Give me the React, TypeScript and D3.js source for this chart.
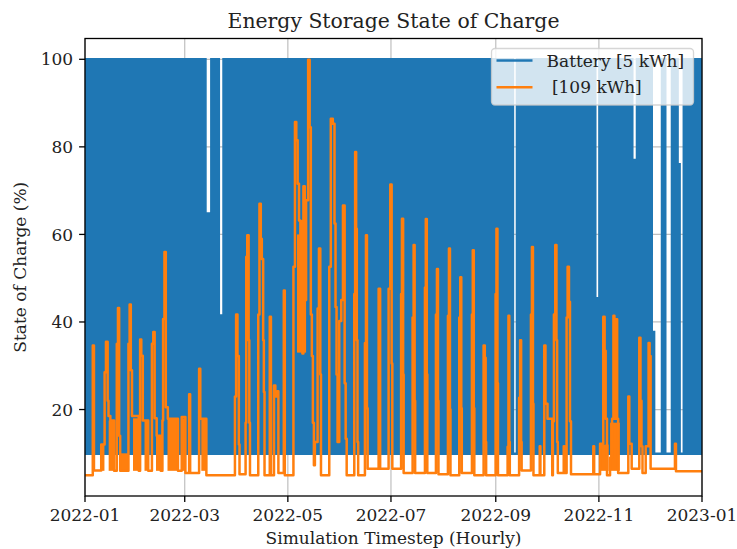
import React, { useRef, useEffect } from 'react';
import * as d3 from 'd3';

const yearStart = Date.UTC(2022, 0, 1);
const yearEnd = Date.UTC(2023, 0, 1);
const yTicks = [20, 40, 60, 80, 100];
const seriesNames = ['Battery [5 kWh]', ' [109 kWh]'];
const seriesColors = ['#1f77b4', '#ff7f0e'];

// battery cycles every day between floor and full; gaps = [startDay, endDay, max SoC reached]
const batteryFloor = 9.9;
const batteryFull = 100;
const batteryGaps = [
  [72.0, 74.0, 64.8],
  [79.9, 81.2, 41.5],
  [253.9, 254.8, 9.9],
  [302.6, 303.6, 45.4],
  [324.5, 325.8, 77],
  [336.0, 337.4, 37.7],
  [337.4, 340.6, 9.9],
  [344.0, 346.5, 9.9],
  [351.3, 352.5, 76],
  [352.5, 353.5, 9.9],
];

// 109 kWh storage, [day of year, SoC %] (value holds until the next point)
const storageTrace = [
  [0, 5.0], [4.6, 34.6], [5.3, 6.1], [9.6, 12], [11.6, 28.5], [12.4, 35.5], [13.4, 22], [13.9, 18.5],
  [15.0, 17.5], [17.2, 6], [18.8, 35], [19.5, 43.2], [20.2, 14], [20.8, 6], [25.7, 35], [26.4, 44],
  [27.1, 29], [27.8, 18.5], [31.8, 6], [32.6, 36], [33.3, 32.3], [34.2, 17.5], [37.4, 6], [39.6, 35],
  [40.4, 37.7], [41.2, 18], [42.4, 14], [44.8, 6], [45.8, 17.5], [46.2, 40.7], [47.0, 56], [47.8, 20.5],
  [49.0, 17.9], [55.0, 6], [57.2, 18.3], [59.4, 5.5], [61.6, 23.5], [62.2, 5.5], [67.5, 29.3],
  [68.2, 17.9], [71.8, 5.0],
  [88.7, 23], [89.4, 41.7], [90.2, 32.2], [91.0, 12], [91.4, 5.2], [95.0, 17], [95.4, 54.9],
  [96.0, 59.8], [96.8, 35.8], [97.2, 17], [97.6, 5.0], [102.5, 41.7], [103.2, 67], [104.0, 59],
  [104.6, 54.4], [105.4, 35.8], [105.8, 24], [106.2, 5.0], [109.3, 41.2], [110.0, 5.0], [111.8, 25.5],
  [112.6, 23], [113.8, 24.2], [114.4, 5.5], [117.6, 47.2], [118.2, 5.0],
  [123.3, 52.6], [124.2, 85.7], [125.0, 81.5], [125.8, 71.6], [126.6, 63.2], [127.4, 41], [128.0, 63],
  [128.6, 32.8], [129.2, 71], [130.0, 45], [130.8, 67.8], [132.0, 99.9], [132.9, 84.5], [133.6, 41.7],
  [134.2, 32.2], [134.8, 17], [135.4, 7.3], [136.0, 12.6], [137.6, 43.1], [138.4, 56.8], [139.2, 28],
  [139.6, 5.0], [144.5, 52.6], [145.4, 86.4], [146.6, 85.3], [147.6, 62.5], [148.2, 43.4], [148.8, 28],
  [149.4, 12.6], [150.4, 40.2], [151.6, 45], [152.6, 66.6], [153.6, 26], [154.2, 13.3], [154.8, 5.0],
  [159.3, 46.4], [159.8, 78.8], [160.4, 61.3], [160.8, 35.8], [161.2, 12.6], [161.6, 5.0],
  [165.6, 35.2], [166.2, 59.8], [166.8, 20.3], [167.2, 6.5], [173.7, 47.6], [174.6, 6.5],
  [179.6, 47.6], [180.6, 71.4], [181.4, 30.5], [181.8, 6.5],
  [187.0, 46.4], [187.5, 63.6], [188.2, 28], [188.5, 5.5], [193.8, 41], [194.4, 57.6], [195.0, 22],
  [195.3, 5.5], [201.1, 47.9], [201.6, 63.5], [202.2, 28], [202.5, 5.5], [207.6, 41.7], [208.2, 52.1],
  [208.8, 22], [209.1, 5.2], [214.7, 41.4], [215.3, 56.8], [215.9, 20], [216.2, 5.0], [221.4, 41],
  [222.0, 50.2], [222.6, 20.3], [222.9, 5.5], [228.9, 41.7], [229.4, 56.4], [230.0, 20.3], [230.3, 5.0],
  [235.8, 34.6], [236.5, 31.8], [237.0, 12.6], [237.3, 5.0], [242.9, 46.4], [243.4, 61.3], [244.0, 26],
  [244.3, 5.0], [250.0, 11.5], [250.5, 41.4], [251.0, 12.6], [251.3, 5.0], [256.8, 22.7], [257.4, 35.8],
  [258.0, 12.6], [258.3, 6.1], [263.8, 41.7], [264.4, 57.1], [265.0, 21.3], [265.3, 5.0], [269.0, 11.6],
  [269.4, 5.0], [271.7, 34.6], [272.4, 21.3], [273.6, 17.9], [276.4, 5.0], [276.8, 17.3],
  [277.4, 41.7], [278.2, 57.6], [278.9, 35.8], [279.3, 12.6], [279.7, 5.5], [283.2, 11.6], [283.6, 5.5],
  [284.9, 41], [285.5, 52.6], [286.3, 44.6], [286.9, 17.3], [287.5, 5.2],
  [300.7, 11.6], [301.2, 5.2], [304.7, 12.2], [306.6, 41.2], [307.4, 33.4], [308.0, 17.9], [308.8, 5.0],
  [310.6, 9], [311.8, 17.9], [312.6, 41.4], [313.2, 17.9], [314.0, 40.6], [314.8, 17.9], [315.4, 5.5],
  [321.4, 23], [322.0, 12.2], [323.4, 6.5], [327.9, 36.4], [328.6, 22], [329.2, 11.6], [329.8, 5.5],
  [331.7, 11.6], [333.4, 35.2], [334.0, 32.2], [334.6, 6.5], [349.0, 12.2], [349.6, 5.9], [365, 5.9],
];

// stretches where the storage cycles every day, [startDay, endDay, low, high]
const storageBands = [
  [9.5, 11.5, 6, 12],
  [14.0, 17.0, 6, 17.5],
  [20.8, 25.5, 6, 10],
  [28.4, 31.6, 6, 18],
  [35.2, 37.4, 6, 17.5],
  [42.0, 45.0, 6, 14],
  [48.8, 55.0, 6, 18],
  [57.2, 59.4, 6, 18],
  [68.8, 71.8, 6, 18],
  [125.4, 130.8, 33, 60],
  [304.7, 309.8, 6, 12],
  [310.6, 316.4, 6, 17],
];

const App = () => {
  const svgRef = useRef(null);

  useEffect(() => {
    const svg = d3.select(svgRef.current);
    svg.selectAll('*').remove();

    const left = 85, right = 702, top = 38.5, bottom = 496;
    const font = 'DejaVu Serif, serif';
    const fs = 17;
    const lw = 2.5;

    const day = (d) => new Date(yearStart + d * 864e5);
    const x = d3.scaleUtc().domain([new Date(yearStart), new Date(yearEnd)]).range([left, right]);
    const y = d3.scaleLinear().domain([0.25, 104.75]).range([bottom, top]);
    const xTicks = x.ticks(d3.utcMonth.every(2));
    const fmt = d3.utcFormat('%Y-%m');

    const plot = svg.append('g');
    svg.append('defs').append('clipPath').attr('id', 'clip')
      .append('rect').attr('x', left).attr('y', top).attr('width', right - left).attr('height', bottom - top);

    // grid
    plot.selectAll('line.gx').data(xTicks).enter().append('line')
      .attr('x1', (d) => x(d)).attr('x2', (d) => x(d)).attr('y1', top).attr('y2', bottom)
      .style('stroke', '#b0b0b0').style('stroke-width', 1.2).style('opacity', 0.8);
    plot.selectAll('line.gy').data(yTicks).enter().append('line')
      .attr('x1', left).attr('x2', right).attr('y1', (d) => y(d)).attr('y2', (d) => y(d))
      .style('stroke', '#b0b0b0').style('stroke-width', 1.2).style('opacity', 0.8);

    // battery: band between floor and daily max
    const steps = [[0, batteryFull]];
    batteryGaps.forEach((g) => {
      steps.push([g[0], g[2]]);
      steps.push([g[1], batteryFull]);
    });
    steps.push([365, batteryFull]);
    const batteryArea = d3.area()
      .curve(d3.curveStepAfter)
      .x((d) => x(day(d[0])))
      .y0(y(batteryFloor) + lw / 2)
      .y1((d) => y(d[1]) - lw / 2);
    plot.append('path').datum(steps).attr('d', batteryArea)
      .attr('clip-path', 'url(#clip)')
      .style('fill', seriesColors[0]);

    // storage
    const data = plot.append('g').attr('clip-path', 'url(#clip)');
    data.selectAll('rect.band').data(storageBands).enter().append('rect')
      .attr('x', (d) => x(day(d[0])))
      .attr('width', (d) => x(day(d[1])) - x(day(d[0])))
      .attr('y', (d) => y(d[3]))
      .attr('height', (d) => y(d[2]) - y(d[3]))
      .style('fill', seriesColors[1]);
    const line = d3.line().curve(d3.curveStepAfter).x((d) => x(day(d[0]))).y((d) => y(d[1]));
    data.append('path').datum(storageTrace).attr('d', line)
      .style('fill', 'none').style('stroke', seriesColors[1])
      .style('stroke-width', lw).style('stroke-linejoin', 'round');

    // spines
    svg.append('rect').attr('x', left).attr('y', top).attr('width', right - left).attr('height', bottom - top)
      .style('fill', 'none').style('stroke', '#000').style('stroke-width', 1.3);

    // x ticks
    const xt = svg.append('g');
    xt.selectAll('line').data(xTicks).enter().append('line')
      .attr('x1', (d) => x(d)).attr('x2', (d) => x(d)).attr('y1', bottom).attr('y2', bottom + 5.9)
      .style('stroke', '#000').style('stroke-width', 1.3);
    xt.selectAll('text').data(xTicks).enter().append('text')
      .attr('x', (d) => x(d)).attr('y', bottom + 25)
      .attr('text-anchor', 'middle')
      .style('font-family', font).style('font-size', fs).style('fill', '#222')
      .text((d) => fmt(d));

    // y ticks
    const yt = svg.append('g');
    yt.selectAll('line').data(yTicks).enter().append('line')
      .attr('x1', left - 5.9).attr('x2', left).attr('y1', (d) => y(d)).attr('y2', (d) => y(d))
      .style('stroke', '#000').style('stroke-width', 1.3);
    yt.selectAll('text').data(yTicks).enter().append('text')
      .attr('x', left - 11.8).attr('y', (d) => y(d) + 6.2)
      .attr('text-anchor', 'end')
      .style('font-family', font).style('font-size', fs).style('fill', '#222')
      .text((d) => d);

    // labels
    svg.append('text').attr('x', (left + right) / 2).attr('y', 27.5)
      .attr('text-anchor', 'middle')
      .style('font-family', font).style('font-size', 20.4).style('fill', '#222')
      .text('Energy Storage State of Charge');
    svg.append('text').attr('x', (left + right) / 2).attr('y', 544)
      .attr('text-anchor', 'middle')
      .style('font-family', font).style('font-size', fs).style('fill', '#222')
      .text('Simulation Timestep (Hourly)');
    svg.append('text').attr('transform', `translate(26, ${(top + bottom) / 2}) rotate(-90)`)
      .attr('text-anchor', 'middle')
      .style('font-family', font).style('font-size', fs).style('fill', '#222')
      .text('State of Charge (%)');

    // legend
    const legend = svg.append('g').attr('transform', 'translate(491.5, 48.5)');
    legend.append('rect').attr('width', 202).attr('height', 56.5).attr('rx', 3.5)
      .style('fill', '#fff').style('fill-opacity', 0.8)
      .style('stroke', '#ccc').style('stroke-opacity', 0.8).style('stroke-width', 1.3);
    seriesNames.forEach((name, i) => {
      legend.append('line').attr('x1', 5).attr('x2', 41).attr('y1', 12 + i * 26.7).attr('y2', 12 + i * 26.7)
        .style('stroke', seriesColors[i]).style('stroke-width', lw);
      legend.append('text').attr('x', 55).attr('y', 18 + i * 26.7)
        .attr('xml:space', 'preserve')
        .style('white-space', 'pre')
        .style('font-family', font).style('font-size', fs).style('fill', '#222')
        .text(name);
    });
  }, []);

  return (
    <svg ref={svgRef} width={737} height={549}
      style={{ position: 'absolute', left: 0, top: 0, background: '#fff' }} />
  );
};

export default App;
